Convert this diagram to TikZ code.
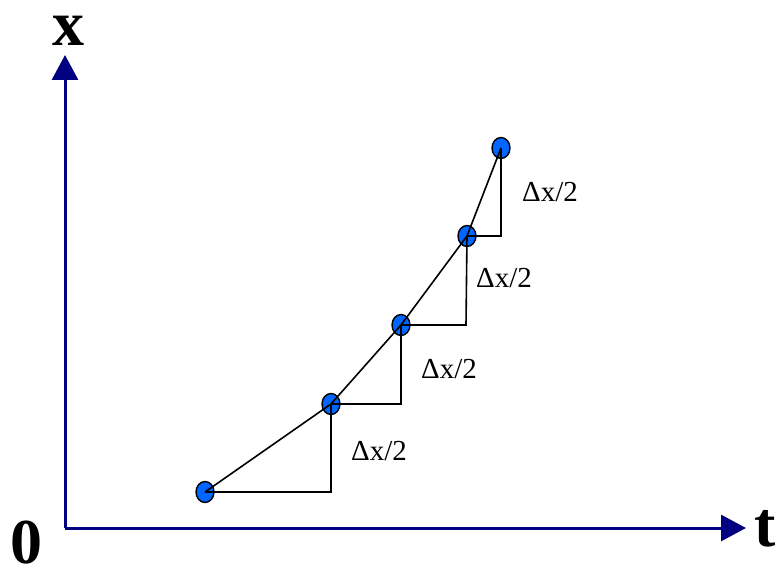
\documentclass[tikz,border=0pt]{standalone}
\usepackage{fontspec}
\setmainfont{Liberation Serif}
\usetikzlibrary{arrows.meta,shapes.geometric}
\definecolor{axisblue}{RGB}{0,0,128}
\definecolor{dotblue}{RGB}{0,102,255}
\begin{document}
\begin{tikzpicture}[x=1pt,y=-1pt,
  axisline/.style={draw=axisblue,line width=3pt,-{Triangle[width=26pt,length=25pt]}},
  dot/.style={ellipse,draw=black,line width=1.4pt,fill=dotblue,minimum width=18pt,minimum height=21pt,inner sep=0pt},
  seg/.style={draw=black,line width=1.6pt},
  lab/.style={font=\fontsize{29}{33}\selectfont,anchor=base west,inner sep=0pt},
  axlab/.style={font=\fontsize{64}{70}\selectfont\bfseries,inner sep=0pt,anchor=base}]
\useasboundingbox (0,0) rectangle (777,567);
\coordinate (O) at (65,528);
\coordinate (Xt) at (65,55);
\coordinate (Tt) at (746,528);
\draw[axisline] (O) -- (Xt);
\draw[axisline] (O) -- (Tt);
\node[axlab] (xl) at (68,46) {x};
\node[axlab] (tl) at (765,546) {t};
\node[axlab] (zl) at (26,563) {0};
\node[dot] (p1) at (205,492) {};
\node[dot] (p2) at (331,404) {};
\node[dot] (p3) at (401,325) {};
\node[dot] (p4) at (467,236) {};
\node[dot] (p5) at (501,148) {};
\coordinate (c1) at (331,492);
\coordinate (c2) at (401,404);
\coordinate (c3) at (466,325);
\coordinate (c4) at (501,236);
\draw[seg] (p1.center) -- (p2.center) -- (p3.center) -- (p4.center) -- (p5.center);
\draw[seg] (p1.center) -- (c1) -- (p2.center);
\draw[seg] (p2.center) -- (c2) -- (p3.center);
\draw[seg] (p3.center) -- (c3) -- (p4.center);
\draw[seg] (p4.center) -- (c4) -- (p5.center);
\node[lab] (l1) at (351,460) {Δx/2};
\node[lab] (l2) at (421,378) {Δx/2};
\node[lab] (l3) at (476,287) {Δx/2};
\node[lab] (l4) at (522,202) {Δx/2};
\end{tikzpicture}
\end{document}
